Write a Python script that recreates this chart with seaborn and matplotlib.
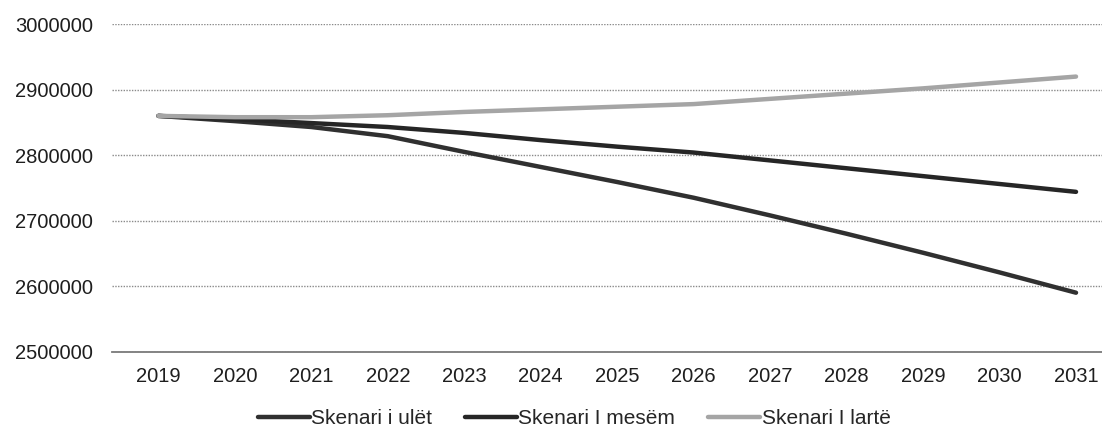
import numpy as np
import pandas as pd
import matplotlib
matplotlib.use("Agg")
import matplotlib.pyplot as plt
import seaborn as sns

# === DATA ===
years = [2019, 2020, 2021, 2022, 2023, 2024, 2025, 2026, 2027, 2028, 2029, 2030, 2031]
skenari_ulet = [2860000, 2852000, 2843000, 2829000, 2805000, 2782000, 2759000,
                2735000, 2708000, 2680000, 2651000, 2621000, 2590000]
skenari_mesem = [2860000, 2855000, 2849000, 2843000, 2834000, 2823000, 2813000,
                 2804000, 2792000, 2780000, 2768000, 2756000, 2744000]
skenari_larte = [2860000, 2858000, 2858000, 2861000, 2866000, 2870000, 2874000,
                 2878000, 2886000, 2894000, 2902000, 2911000, 2920000]
series_names = ["Skenari i ulët", "Skenari I mesëm", "Skenari I lartë"]
colors = ["#303030", "#262626", "#a5a5a5"]
y_ticks = [2500000, 2600000, 2700000, 2800000, 2900000, 3000000]

df = pd.DataFrame({
    "year": years * 3,
    "value": skenari_ulet + skenari_mesem + skenari_larte,
    "scenario": np.repeat(series_names, len(years)),
})

# === PLOT ===
sns.set_theme(style="white")
plt.rcParams["font.family"] = ["Liberation Sans", "DejaVu Sans"]

fig = plt.figure(figsize=(11.02, 4.32), dpi=100)
ax = fig.add_axes([0.102, 0.186, 0.898, 0.758])

sns.lineplot(data=df, x="year", y="value", hue="scenario", hue_order=series_names,
             palette=dict(zip(series_names, colors)), linewidth=3.2, ax=ax, legend=False)

ax.set_ylim(2500000, 3000000)
ax.set_yticks(y_ticks)
ax.set_yticklabels([str(v) for v in y_ticks])
ax.set_xlim(2019 - 46 / 76.5, 2031 + 26 / 76.5)
ax.set_xticks(years)
ax.set_xticklabels([str(y) for y in years])
ax.set_xlabel("")
ax.set_ylabel("")

ax.yaxis.grid(True, linestyle=(0, (1, 1)), color="#8a8a8a", linewidth=1)
ax.xaxis.grid(False)
for side in ["left", "right", "top"]:
    ax.spines[side].set_visible(False)
ax.spines["bottom"].set_color("#7a7a7a")
ax.spines["bottom"].set_linewidth(1.3)
ax.tick_params(axis="both", length=0, labelsize=14.5, colors="#1e1e1e")
ax.tick_params(axis="y", pad=14)
ax.tick_params(axis="x", pad=11)

handles = [plt.Line2D([], [], color=c, linewidth=3.2) for c in colors]
fig.legend(handles, series_names, loc="center", bbox_to_anchor=(574 / 1102, 1 - 419 / 432),
           ncol=3, frameon=False, fontsize=15, handlelength=2.5, handletextpad=0.05,
           columnspacing=1.6)

fig.savefig("out.png", dpi=100, facecolor="white")
